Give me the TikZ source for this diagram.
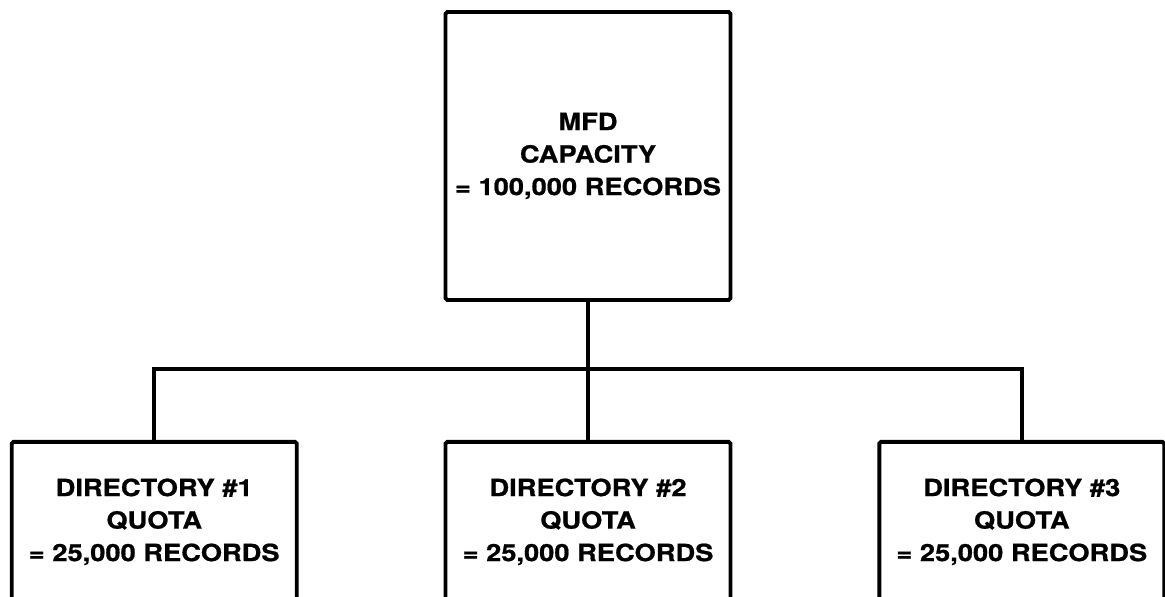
\documentclass[tikz,border=0pt]{standalone}
\usepackage{fontspec}
\setmainfont{TeX Gyre Heros}[FakeStretch=1.15,FakeBold=0.8]
\usetikzlibrary{positioning}

\begin{document}
\begin{tikzpicture}[
  x=0.02cm, y=-0.02cm,
  node distance=2.76cm and 2.9cm,
  unit/.style={draw,line width=2.2pt,rounded corners=1pt,minimum width=5.7cm},
  caption/.style={align=center,font=\fontsize{13.5}{18.5}\selectfont\bfseries},
  link/.style={line width=2.2pt}
]
  \useasboundingbox (0,0) rectangle (1165,596);
  \clip (0,0) rectangle (1165,596);

  \node[unit,minimum height=5.76cm,caption] (mfd) at (588,156)
    {MFD\\CAPACITY\\= 100,000 RECORDS};
  \node[unit,minimum height=4cm,below=of mfd] (dir2) {};
  \node[unit,minimum height=4cm,left=of dir2] (dir1) {};
  \node[unit,minimum height=4cm,right=of dir2] (dir3) {};

  \node[caption] (quota1) at ([yshift=-1.64cm]dir1.north)
    {DIRECTORY \#1\\QUOTA\\= 25,000 RECORDS};
  \node[caption] (quota2) at ([yshift=-1.64cm]dir2.north)
    {DIRECTORY \#2\\QUOTA\\= 25,000 RECORDS};
  \node[caption] (quota3) at ([yshift=-1.64cm]dir3.north)
    {DIRECTORY \#3\\QUOTA\\= 25,000 RECORDS};

  \coordinate (bus) at ([yshift=-1.34cm]mfd.south);
  \draw[link] (mfd.south) -- (dir2.north);
  \draw[link] (dir1.north) |- (bus) -| (dir3.north);
\end{tikzpicture}
\end{document}
